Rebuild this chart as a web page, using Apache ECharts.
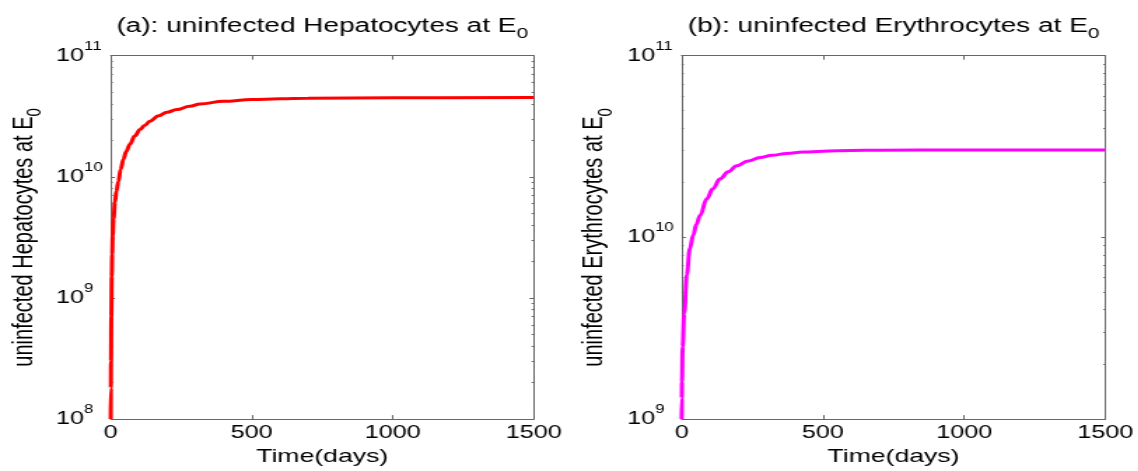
<!DOCTYPE html>
<html>
<head>
<meta charset="utf-8">
<script src="https://cdn.jsdelivr.net/npm/echarts@6/dist/echarts.min.js"></script>
<style>
  html, body { margin: 0; padding: 0; background: #fff; overflow: hidden; }
  /* the reference is a horizontally stretched figure, so draw narrow and stretch */
  #chart { width: 813px; height: 471px; transform: scaleX(1.4); transform-origin: 0 0; }
</style>
</head>
<body>
<div id="chart"></div>
<script>
// time (days) and cell counts
var tHep = [0, 0.5, 1, 2, 3.5, 5, 7, 10, 15, 20, 27, 35, 45, 55, 68, 85, 104, 120, 139, 170, 200, 234, 280, 317, 400, 500, 600, 700, 1000, 1500]
var hep = [1e8, 1.8e8, 3e8, 7e8, 1.5e9, 2.3e9, 3.3e9, 4.5e9, 6.2e9, 7.6e9, 9.1e9, 1.15e10, 1.4e10, 1.62e10, 1.86e10, 2.17e10, 2.46e10, 2.65e10, 2.88e10, 3.2e10, 3.42e10, 3.59e10, 3.82e10, 4.0e10, 4.2e10, 4.34e10, 4.42e10, 4.46e10, 4.5e10, 4.52e10]

var tEry = [0, 0.5, 1, 3.5, 9, 18, 29, 41, 52, 65, 89, 110, 136, 165, 195, 235, 278, 320, 372, 430, 500, 600, 700, 1000, 1500]
var ery = [1e9, 1.3e9, 1.6e9, 2.5e9, 3.8e9, 6.2e9, 8.7e9, 1.03e10, 1.18e10, 1.32e10, 1.63e10, 1.85e10, 2.1e10, 2.3e10, 2.48e10, 2.63e10, 2.75e10, 2.83e10, 2.9e10, 2.95e10, 2.98e10, 3.01e10, 3.02e10, 3.03e10, 3.03e10]

var xTicks = [0, 500, 1000, 1500]
var yTicksHep = [1e8, 1e9, 1e10, 1e11]
var yTicksEry = [1e9, 1e10, 1e11]

var titles = ['(a): uninfected Hepatocytes at E', '(b): uninfected Erythrocytes at E']
var yNames = ['uninfected Hepatocytes at E', 'uninfected Erythrocytes at E']
var xName = 'Time(days)'

var FONT = 'Liberation Sans'
var AXIS_COLOR = '#666'

function minorTicks (decades) {
  var out = []
  for (var i = 0; i < decades.length - 1; i++) {
    for (var k = 2; k <= 9; k++) out.push(k * decades[i])
  }
  return out
}

function pairs (xs, ys) {
  return xs.map(function (x, i) { return [x, ys[i]] })
}

var subRich = {
  a: { fontSize: 20, fontFamily: FONT, color: '#000' },
  b: { fontSize: 15, fontFamily: FONT, color: '#000', lineHeight: 15, padding: [16, 0, 0, 0] }
}

function xAxes (grid) {
  return [
    {
      gridIndex: grid, type: 'value', min: 0, max: 1500, interval: 500, position: 'bottom',
      name: xName, nameLocation: 'middle', nameGap: 24,
      nameTextStyle: { fontSize: 19, fontFamily: FONT, color: '#000' },
      axisLine: { show: true, lineStyle: { color: AXIS_COLOR, width: 1 } },
      axisTick: { show: true, inside: true, length: 4, lineStyle: { color: AXIS_COLOR } },
      axisLabel: {
        show: true, margin: 5, fontSize: 18, fontFamily: FONT, color: '#000', customValues: xTicks,
        formatter: function (v) { return String(v) }
      },
      splitLine: { show: false }
    },
    {
      gridIndex: grid, type: 'value', min: 0, max: 1500, interval: 500, position: 'top',
      axisLine: { show: true, lineStyle: { color: AXIS_COLOR, width: 1 } },
      axisTick: { show: true, inside: true, length: 4, lineStyle: { color: AXIS_COLOR } },
      axisLabel: { show: false },
      splitLine: { show: false }
    }
  ]
}

function yAxes (grid, lo, decades, name) {
  var base = { gridIndex: grid, type: 'log', logBase: 10, min: lo, max: 1e11, splitLine: { show: false } }
  return [
    Object.assign({}, base, {
      position: 'left',
      name: '{a|' + name + '}{b|0}', nameLocation: 'middle', nameGap: 52,
      nameTextStyle: { rich: subRich },
      axisLine: { show: true, lineStyle: { color: AXIS_COLOR, width: 1 } },
      axisTick: { show: true, inside: true, length: 3, customValues: decades, lineStyle: { color: AXIS_COLOR } },
      axisLabel: {
        show: true, align: 'left', margin: 39, customValues: decades,
        formatter: function (v) { return '{m|10}{e|' + Math.round(Math.log10(v)) + '}' },
        rich: {
          m: { fontSize: 18, fontFamily: FONT, color: '#000', lineHeight: 18 },
          e: { fontSize: 12, fontFamily: FONT, color: '#000', lineHeight: 12, padding: [0, 0, 19, 0] }
        }
      }
    }),
    Object.assign({}, base, {
      position: 'left',
      axisLine: { show: false },
      axisTick: { show: true, inside: true, length: 1.5, customValues: minorTicks(decades), lineStyle: { color: AXIS_COLOR } },
      axisLabel: { show: false }
    }),
    Object.assign({}, base, {
      position: 'right',
      axisLine: { show: true, lineStyle: { color: AXIS_COLOR, width: 1 } },
      axisTick: { show: true, inside: true, length: 3, customValues: decades, lineStyle: { color: AXIS_COLOR } },
      axisLabel: { show: false }
    }),
    Object.assign({}, base, {
      position: 'right',
      axisLine: { show: false },
      axisTick: { show: true, inside: true, length: 1.5, customValues: minorTicks(decades), lineStyle: { color: AXIS_COLOR } },
      axisLabel: { show: false }
    })
  ]
}

function titleText (x, txt) {
  return {
    type: 'text', x: x, y: 26,
    style: { text: '{a|' + txt + '}{b|0}', rich: subRich, align: 'center', verticalAlign: 'middle' }
  }
}

var chart = echarts.init(document.getElementById('chart'))
chart.setOption({
  animation: false,
  backgroundColor: '#fff',
  grid: [
    { left: 79.1, right: 431.8, top: 55.7, bottom: 49 },
    { left: 486.9, right: 23.4, top: 55.7, bottom: 49 }
  ],
  graphic: [
    titleText(230.2, titles[0]),
    titleText(638.3, titles[1])
  ],
  xAxis: xAxes(0).concat(xAxes(1)),
  yAxis: yAxes(0, 1e8, yTicksHep, yNames[0]).concat(yAxes(1, 1e9, yTicksEry, yNames[1])),
  series: [
    {
      type: 'line', xAxisIndex: 0, yAxisIndex: 0, showSymbol: false,
      smooth: 0.4, smoothMonotone: 'x',
      lineStyle: { color: '#ff0000', width: 3 },
      data: pairs(tHep, hep)
    },
    {
      type: 'line', xAxisIndex: 2, yAxisIndex: 4, showSymbol: false,
      smooth: 0.4, smoothMonotone: 'x',
      lineStyle: { color: '#ff00ff', width: 3 },
      data: pairs(tEry, ery)
    }
  ]
})
</script>
</body>
</html>
